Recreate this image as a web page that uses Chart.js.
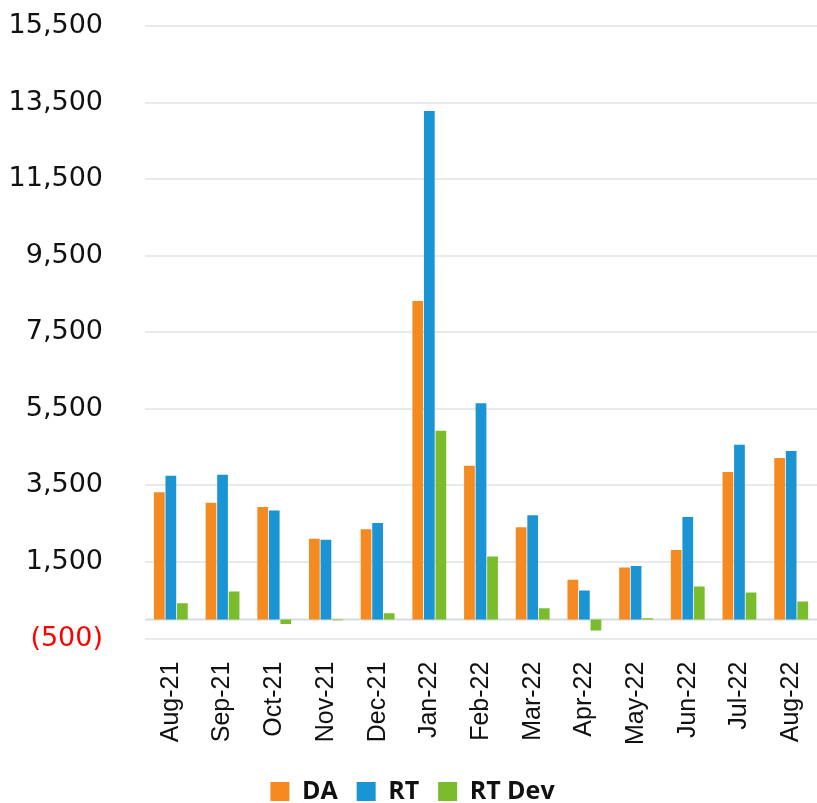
<!DOCTYPE html>
<html lang="en">
<head>
    <meta charset="UTF-8">
    <title>DA vs RT</title>
    <script src="https://cdn.jsdelivr.net/npm/chart.js"></script>
    <style>
        body {
            margin: 0;
            padding: 0;
            background-color: #fff;
        }
        .chart-box {
            width: 817px;
            height: 803px;
            position: relative;
        }
    </style>
</head>
<body>
    <div class="chart-box">
        <canvas id="mainChart"></canvas>
    </div>

    <script>
        const months = ['Aug-21', 'Sep-21', 'Oct-21', 'Nov-21', 'Dec-21', 'Jan-22', 'Feb-22',
                        'Mar-22', 'Apr-22', 'May-22', 'Jun-22', 'Jul-22', 'Aug-22'];
        const daValues = [3320, 3050, 2940, 2110, 2355, 8320, 4015, 2410, 1035, 1355, 1815, 3850, 4215];
        const rtValues = [3755, 3780, 2845, 2080, 2520, 13280, 5650, 2720, 755, 1400, 2680, 4565, 4400];
        const rtDevValues = [425, 730, -115, -20, 165, 4930, 1645, 295, -285, 30, 860, 705, 470];

        const yMin = -500;
        const yMax = 15500;
        const yStep = 2000;

        // linea del cero
        const zeroLine = {
            id: 'zeroLine',
            beforeDatasetsDraw(chart) {
                const y = chart.scales.y.getPixelForValue(0);
                const area = chart.chartArea;
                const ctx = chart.ctx;
                ctx.save();
                ctx.strokeStyle = '#d6dcdc';
                ctx.lineWidth = 2;
                ctx.beginPath();
                ctx.moveTo(area.left, y);
                ctx.lineTo(area.right, y);
                ctx.stroke();
                ctx.restore();
            }
        };

        const data = {
            labels: months,
            datasets: [
                {
                    label: 'DA',
                    data: daValues,
                    backgroundColor: 'rgb(245, 138, 33)',
                },
                {
                    label: 'RT',
                    data: rtValues,
                    backgroundColor: 'rgb(26, 148, 211)',
                },
                {
                    label: 'RT Dev',
                    data: rtDevValues,
                    backgroundColor: 'rgb(122, 188, 43)',
                }
            ]
        };

        const config = {
            type: 'bar',
            data: data,
            plugins: [zeroLine],
            options: {
                responsive: true,
                maintainAspectRatio: false,
                animation: false,
                categoryPercentage: 0.67,
                barPercentage: 0.93,
                layout: {
                    padding: { left: 8, right: 0, top: 26, bottom: -11 }
                },
                plugins: {
                    legend: {
                        position: 'bottom',
                        labels: {
                            boxWidth: 19,
                            boxHeight: 19,
                            padding: 19,
                            color: '#111',
                            font: {
                                family: 'Open Sans',
                                size: 25,
                                weight: 'bold'
                            }
                        }
                    },
                    tooltip: { enabled: false }
                },
                scales: {
                    x: {
                        grid: { display: false },
                        border: { display: false },
                        afterFit: function(scale) {
                            scale.paddingLeft = 0;
                            scale.paddingRight = 0;
                        },
                        ticks: {
                            minRotation: 90,
                            maxRotation: 90,
                            padding: 15,
                            color: '#111',
                            font: {
                                family: 'Liberation Sans',
                                size: 25
                            }
                        }
                    },
                    y: {
                        min: yMin,
                        max: yMax,
                        border: { display: false },
                        grid: {
                            color: '#e6eaea',
                            lineWidth: 2,
                            drawTicks: false
                        },
                        afterFit: function(scale) {
                            scale.width = 137;
                            scale.paddingTop = 16;
                            scale.paddingBottom = 16;
                        },
                        ticks: {
                            stepSize: yStep,
                            padding: 42,
                            color: function(ctx) {
                                return ctx.tick && ctx.tick.value < 0 ? '#ff0000' : '#111';
                            },
                            font: {
                                family: 'DejaVu Sans',
                                size: 27
                            },
                            callback: function(value) {
                                if (value < 0) {
                                    return '(' + Math.abs(value).toLocaleString('en-US') + ')';
                                }
                                return value.toLocaleString('en-US');
                            }
                        }
                    }
                }
            }
        };

        var mainChart = new Chart(document.getElementById('mainChart'), config);
    </script>
</body>
</html>
